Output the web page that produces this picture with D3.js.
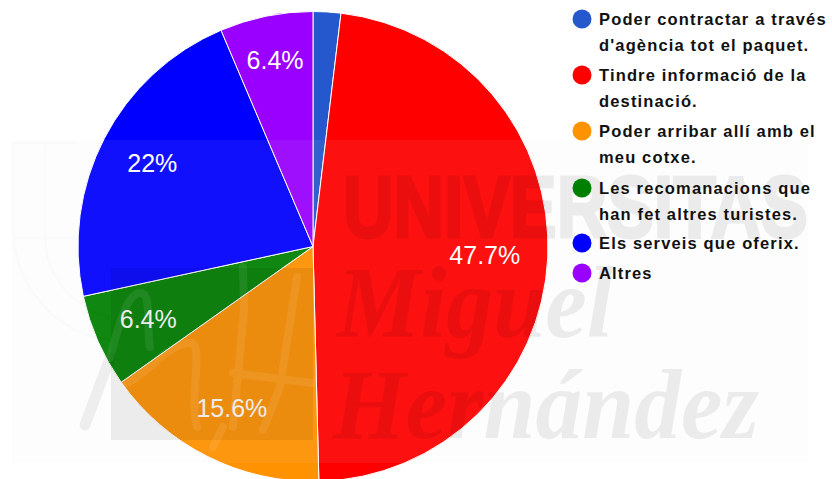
<!DOCTYPE html>
<html><head><meta charset="utf-8">
<script src="https://cdn.jsdelivr.net/npm/d3@7/dist/d3.min.js"></script>
<style>html,body{margin:0;padding:0;background:#fff}svg{display:block}</style>
</head><body><svg id="c" width="832" height="479"></svg>
<script>
const categories=["Poder contractar a través d'agència tot el paquet.","Tindre informació de la destinació.","Poder arribar allí amb el meu cotxe.","Les recomanacions que han fet altres turistes.","Els serveis que oferix.","Altres"];
const legendLines=[["Poder contractar a través","d'agència tot el paquet."],["Tindre informació de la","destinació."],["Poder arribar allí amb el","meu cotxe."],["Les recomanacions que","han fet altres turistes."],["Els serveis que oferix."],["Altres"]];
const values=[1.9,47.7,15.6,6.4,22,6.4];
const sliceLabels=["","47.7%","15.6%","6.4%","22%","6.4%"];
const colors=["#2458cc","#ff0000","#ff9200","#008000","#0000ff","#9900ff"];
const labelRadii=[0,172,181,180,181,190];

const svg=d3.select("#c");
const cx=313,cy=246.5,R=235;
const pie=d3.pie().sort(null).value(d=>d)(values);
const arc=d3.arc().innerRadius(0).outerRadius(R);
const g=svg.append("g").attr("transform",`translate(${cx},${cy})`);
g.selectAll("path").data(pie).join("path").attr("d",arc).attr("fill",(d,i)=>colors[i]).attr("stroke","#fff").attr("stroke-width",1);

// watermark layer
const wm=svg.append("g");
wm.append("rect").attr("x",12).attr("y",140).attr("width",796).attr("height",323).attr("fill","#e8e8e8").attr("opacity",.07);
wm.append("rect").attr("x",111).attr("y",268).attr("width",202).attr("height",172).attr("fill","#000").attr("opacity",.065);
wm.append("path").attr("d","M13 143V225C13 290 60 335 110 340M45 143V235C45 275 70 305 110 318M13 238H77M77 143H12").attr("fill","none").attr("stroke","#000").attr("stroke-width",3).attr("opacity",.012);
wm.append("path").attr("d","M85 425L110 358").attr("fill","none").attr("stroke","#000").attr("stroke-width",11).attr("stroke-linecap","round").attr("opacity",.06);
wm.append("path").attr("d","M110 358C120 320 128 293 140 293C152 293 146 320 150 347M118 385C140 385 165 343 190 343C205 343 188 400 197 427M233 427L244 310L243 267M233 373L313 383M297 277L280 387L263 430M213 447L223 427")
 .attr("fill","none").attr("stroke","#fff").attr("stroke-width",8).attr("stroke-linecap","round").attr("stroke-linejoin","round").attr("opacity",.08);
const t=(s,x,y,fs,fam,w,st,len,sw)=>{
  const n=wm.append("text").text(s).attr("font-size",fs).attr("font-family",fam).attr("font-weight",w).attr("font-style",st).attr("fill","#000").attr("stroke","#000").attr("stroke-width",sw).attr("opacity",.065);
  n.attr("transform",`translate(${x},${y}) scale(${len/n.node().getComputedTextLength()},1)`);
};
t("UNIVERSITAS",343,237,87,"Liberation Sans","bold","normal",465,3);
t("Miguel",337,337,102,"Liberation Serif","bold","italic",276,0);
t("Hernández",333,438,100,"Liberation Serif","bold","italic",426,0);

// slice labels
g.selectAll("text").data(pie).join("text")
 .attr("x",(d,i)=>labelRadii[i]*Math.sin((d.startAngle+d.endAngle)/2))
 .attr("y",(d,i)=>-labelRadii[i]*Math.cos((d.startAngle+d.endAngle)/2))
 .attr("dy","0.36em").attr("text-anchor","middle")
 .attr("font-family","Liberation Sans, Arial, sans-serif").attr("font-size",25).attr("fill","#fff")
 .text((d,i)=>sliceLabels[i]);

// legend
const ly=[19,75,131,188,243,273];
const leg=svg.append("g").selectAll("g").data(legendLines).join("g").attr("transform",(d,i)=>`translate(582,${ly[i]})`);
leg.append("circle").attr("r",9.5).attr("fill",(d,i)=>colors[i]);
leg.selectAll("text").data(d=>d).join("text").attr("x",17).attr("y",(d,i)=>i*26).attr("dy","0.36em")
 .attr("font-family","Liberation Sans, Arial, sans-serif").attr("font-weight","bold").attr("font-size",16.5).attr("letter-spacing",1.15).attr("fill","#111").text(d=>d);
</script></body></html>
